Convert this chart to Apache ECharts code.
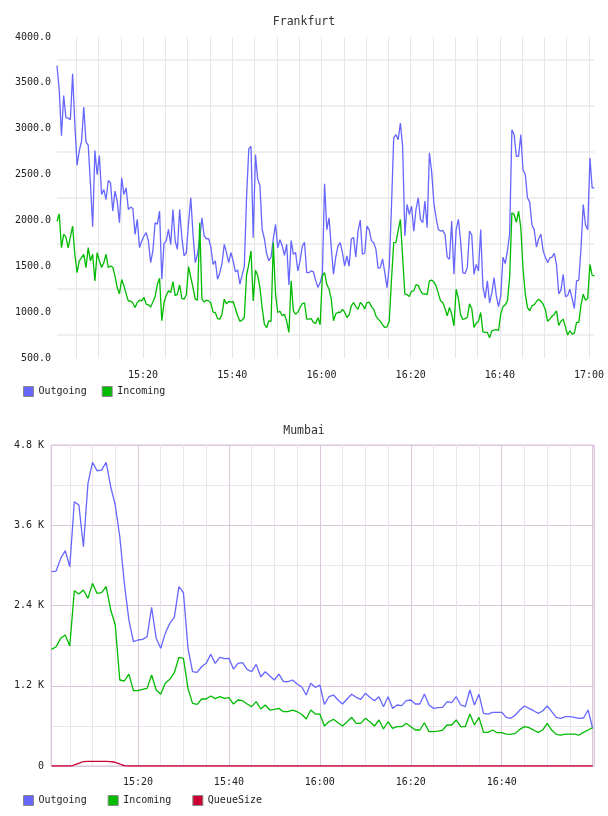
<!DOCTYPE html>
<html><head><meta charset="utf-8">
<script src="https://cdn.jsdelivr.net/npm/echarts@6/dist/echarts.min.js"></script>
<style>html,body{margin:0;padding:0;background:#fff}#c1,#c2{width:608px;height:408px}</style>
</head><body><div id="c1"></div><div id="c2"></div>
<script>
const FONT = 'DejaVu Sans Mono';

// ---------- Frankfurt ----------
const frTitle = 'Frankfurt';
const frStart = 900.7;   // minutes since midnight of first sample
const frStep = 0.5;      // minutes between samples
const frOutgoing = [3688,3424,2924,3362,3120,3116,3098,3598,3050,2602,
2760,2862,3236,2855,2820,2400,1931,2761,2500,2707,
2283,2337,2228,2435,2410,2102,2319,2211,1975,2464,
2283,2355,2120,2145,2130,1848,2011,1703,1776,1830,
1866,1776,1540,1667,1975,1960,2102,1359,1750,1776,
1902,1739,2120,1776,1685,2120,1812,1613,1649,1975,
2247,1848,1540,
1631,1800,2029,1830,1800,1800,1710,1520,1560,1359,
1430,1530,1739,1649,1540,1650,1558,1440,1460,1304,
1400,1500,2246,2780,2808,1812,2717,2450,2380,1902,
1800,1640,1560,1600,1800,1957,1700,1790,1721,1620,
1739,1297,1780,1631,1650,1449,1560,1720,1760,1431,
1430,1450,1440,1345,1270,1320,1413,2400,1900,2029,
1703,1413,1600,1720,1757,1650,1504,1613,1500,1800,
1812,1600,1884,2004,1631,1645,1938,1900,1780,1757,
1690,1480,1486,1580,1430,1268,1500,2150,2900,2935,
2880,3062,2808,1830,2174,2065,2156,1884,2120,2247,
2011,1975,2211,1920,2736,2536,2193,2029,1902,1884,
1891,1848,1600,1576,1993,1413,1900,2011,1776,1431,
1420,1486,1884,1840,1413,1520,1450,1900,1280,1150,
1341,1100,1207,1377,1180,1060,1178,1600,1530,1667,
1860,2989,2935,2700,2700,2935,2550,2500,2247,2200,
1950,1900,1710,1800,1850,1670,1600,1540,1590,1600,
1640,1522,1200,1240,1413,1170,1180,1250,1150,1040,
1341,1350,1700,2174,1950,1900,2681,2355,2355];
const frIncoming = [1990,2072,1703,1848,1820,1700,1819,1938,1631,1431,
1560,1594,1631,1486,1703,1558,1631,1341,1649,1560,
1486,1540,1631,1486,1504,1490,1395,1268,1200,1355,
1290,1200,1120,1123,1100,1051,1105,1130,1123,1160,
1087,1080,1055,1110,1170,1304,1370,906,1105,1185,
1232,1214,1333,1180,1196,1297,1150,1141,1190,1496,
1380,1268,1141,
1130,1975,1141,1110,1130,1123,1100,1000,996,930,
924,978,1141,1090,1116,1110,1116,1040,960,900,
913,942,1400,1522,1667,1123,1456,1400,1268,1051,
870,830,906,900,1757,1200,996,1010,960,978,
900,779,1341,1014,978,1000,1051,1094,1100,924,
924,930,888,877,940,862,1395,1431,1304,1250,
1141,906,980,1000,996,1030,1000,942,970,1069,
1105,1060,1030,1105,1080,1035,1105,1110,1060,1033,
960,924,900,862,833,840,900,1350,1757,1760,
1890,2011,1600,1200,1190,1170,1230,1232,1300,1290,
1232,1200,1200,1190,1340,1350,1330,1286,1205,1123,
1105,1040,960,1051,980,851,1250,1150,970,920,
930,942,1090,1040,833,880,900,996,785,780,
779,720,797,804,810,800,978,1060,1080,1123,
1380,2084,2065,1980,2102,1920,1470,1200,1050,1014,
1070,1080,1116,1140,1120,1087,1030,900,924,955,
978,1014,855,900,924,840,750,797,761,772,
888,888,1080,1196,1130,1150,1522,1400,1395];
const frYTicks = [500,1000,1500,2000,2500,3000,3500,4000];
const frXTicks = ['15:20','15:40','16:00','16:20','16:40','17:00'];

// ---------- Mumbai ----------
const muTitle = 'Mumbai';
const muStart = 901;
const muStep = 1;
const muOutgoing = [2905,2915,3105,3219,2980,3952,3902,3279,4226,4540,
4415,4425,4540,4176,3902,3428,2731,2183,1859,1884,
1894,1933,2372,1909,1760,1984,2133,2223,2681,2591,
1760,1410,1400,1484,1535,1670,1535,1625,1605,1610,
1450,1535,1545,1445,1410,1520,1335,1410,1345,1286,
1375,1261,1261,1286,1226,1186,1061,1236,1176,1211,
922,1036,1061,987,927,1002,1072,1027,997,1087,
1027,977,1036,887,1036,862,912,902,977,987,
927,927,1076,912,862,872,877,962,947,1036,
912,887,1136,912,1072,788,777,803,803,803,
728,713,762,837,897,862,827,788,822,897,
812,728,713,737,737,728,713,718,837,563];
const muIncoming = [1744,1784,1909,1958,1794,2621,2571,2631,2507,2731,
2581,2591,2681,2332,2108,1286,1271,1375,1126,1126,
1146,1161,1360,1136,1072,1236,1296,1395,1625,1610,
1161,937,922,1002,1002,1047,1007,1036,1012,1022,
927,987,977,927,887,962,852,912,837,847,
862,812,812,837,812,773,703,837,777,777,
598,662,698,647,598,662,728,638,638,713,
662,598,688,553,662,563,588,588,638,588,
538,538,647,513,513,523,538,613,613,688,
588,588,777,613,728,503,503,538,498,498,
478,473,488,548,588,573,538,503,538,638,
538,473,463,478,478,478,463,503,538,573];
const muQueue = [0,0,0,0,0,15,40,65,70,70,
70,70,70,65,55,30,5,0,0,0,
0,0,0,0,0,0,0,0,0,0,
0,0,0,0,0,0,0,0,0,0,
0,0,0,0,0,0,0,0,0,0,
0,0,0,0,0,0,0,0,0,0,
0,0,0,0,0,0,0,0,0,0,
0,0,0,0,0,0,0,0,0,0,
0,0,0,0,0,0,0,0,0,0,
0,0,0,0,0,0,0,0,0,0,
0,0,0,0,0,0,0,0,0,0,
0,0,0,0,0,0,0,0,0,0];
const muYTicks = [0,1200,2400,3600,4800];
const muYLabels = ['0','1.2 K','2.4 K','3.6 K','4.8 K'];
const muXTicks = ['15:20','15:40','16:00','16:20','16:40'];

const C_OUT = '#6666ff', C_IN = '#00bb00', C_Q = '#cc0033';

function pairs(start, step, arr){ return arr.map((v,i)=>[start+i*step, v]); }
function fmtTime(v){
  if (Math.abs(v - Math.round(v)) > 1e-6) return '';
  const r = Math.round(v), h = Math.floor(r/60), m = r % 60;
  return h + ':' + String(m).padStart(2,'0');
}
function xFmt(list){ return v => { const s = fmtTime(v); return list.indexOf(s) >= 0 ? s : ''; }; }
const txt = {fontFamily: FONT, fontSize: 10, color: '#222'};
function lineSeries(name, data, color, extra){
  return Object.assign({name, type:'line', data, showSymbol:false, symbol:'none',
    lineStyle:{color, width:1.3}, itemStyle:{color}, emphasis:{disabled:true}}, extra||{});
}

// ---------- chart 1 ----------
const c1 = echarts.init(document.getElementById('c1'), null, {renderer:'canvas'});
c1.setOption({
  animation:false,
  title:{text:frTitle, left:'center', top:11, textStyle:{fontFamily:FONT, fontSize:11.5, fontWeight:'normal', color:'#333'}},
  legend:{left:23, top:386, padding:0, icon:'rect', itemWidth:10, itemHeight:10, itemGap:15,
    textStyle:txt, itemStyle:{borderColor:'#888', borderWidth:1}, data:['Outgoing','Incoming']},
  grid:{left:57, right:608-594.4, top:37, bottom:50},
  xAxis:{type:'value', min:frStart, max:frStart+(frOutgoing.length-1)*frStep, minInterval:20, maxInterval:20,
    axisLine:{show:false}, axisTick:{show:false},
    axisLabel:Object.assign({margin:12, formatter:xFmt(frXTicks), showMinLabel:false, showMaxLabel:false}, txt),
    splitLine:{show:true, showMinLine:false, showMaxLine:false, lineStyle:{color:'#e6e6e6', width:1}},
    minorTick:{show:false, splitNumber:4},
    minorSplitLine:{show:true, lineStyle:{color:'#e6e6e6', width:1}}},
  yAxis:{type:'value', min:500, max:4000, interval:250,
    axisLine:{show:false}, axisTick:{show:false},
    axisLabel:Object.assign({margin:6, formatter:v => frYTicks.indexOf(v) >= 0 ? v.toFixed(1) : ''}, txt),
    splitLine:{show:true, lineStyle:{color:['rgba(0,0,0,0)','#efefef'], width:2}}},
  series:[
    lineSeries('Outgoing', pairs(frStart, frStep, frOutgoing), C_OUT),
    lineSeries('Incoming', pairs(frStart, frStep, frIncoming), C_IN)
  ]
});

// ---------- chart 2 ----------
const c2 = echarts.init(document.getElementById('c2'), null, {renderer:'canvas'});
c2.setOption({
  animation:false,
  title:{text:muTitle, left:'center', top:12, textStyle:{fontFamily:FONT, fontSize:11.5, fontWeight:'normal', color:'#333'}},
  legend:{left:23, top:387, padding:0, icon:'rect', itemWidth:10, itemHeight:10, itemGap:21,
    textStyle:txt, itemStyle:{borderColor:'#888', borderWidth:1}, data:['Outgoing','Incoming','QueueSize']},
  grid:{left:51, right:14, top:37, bottom:50, show:true, borderColor:'#dcc6dc', borderWidth:1},
  xAxis:{type:'value', min:900.87, max:1020.3, minInterval:20, maxInterval:20,
    axisLine:{show:false}, axisTick:{show:false},
    axisLabel:Object.assign({margin:11, formatter:xFmt(muXTicks), showMinLabel:false, showMaxLabel:false}, txt),
    splitLine:{show:true, lineStyle:{color:'#dcc8dc', width:1}},
    minorTick:{show:false, splitNumber:4},
    minorSplitLine:{show:true, lineStyle:{color:'#ebe4eb', width:1}}},
  yAxis:{type:'value', min:0, max:4800, interval:600,
    axisLine:{show:false}, axisTick:{show:false},
    axisLabel:Object.assign({margin:7, formatter:v => { const i = muYTicks.indexOf(v); return i >= 0 ? muYLabels[i] : ''; }}, txt),
    splitLine:{show:true, lineStyle:{color:['#dcc6dc','#ebe4eb'], width:1}}},
  series:[
    lineSeries('Outgoing', pairs(muStart, muStep, muOutgoing), C_OUT),
    lineSeries('Incoming', pairs(muStart, muStep, muIncoming), C_IN),
    lineSeries('QueueSize', pairs(muStart, muStep, muQueue), C_Q, {smooth:0.4})
  ]
});
</script></body></html>
